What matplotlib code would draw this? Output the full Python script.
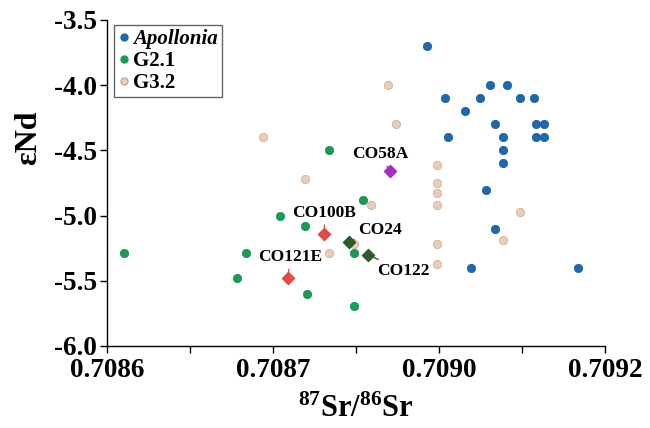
import matplotlib
matplotlib.use("Agg")
import matplotlib.pyplot as plt
from matplotlib.lines import Line2D

plt.rcParams['font.family'] = ['Liberation Serif', 'DejaVu Serif']
plt.rcParams['font.weight'] = 'bold'
plt.rcParams['mathtext.fontset'] = 'custom'
plt.rcParams['mathtext.rm'] = 'Liberation Serif:bold'
plt.rcParams['mathtext.bf'] = 'Liberation Serif:bold'
plt.rcParams['mathtext.it'] = 'Liberation Serif:bold:italic'

# ---- data ----
apollonia_sr = [0.708986, 0.709061, 0.709082, 0.709007, 0.709049, 0.709097, 0.709114,
                0.709031, 0.709067, 0.709117, 0.709127, 0.709011, 0.709077, 0.709117,
                0.709127, 0.709077, 0.709077, 0.709057, 0.709067, 0.709039, 0.709167]
apollonia_nd = [-3.70, -4.00, -4.00, -4.10, -4.10, -4.10, -4.10,
                -4.20, -4.30, -4.30, -4.30, -4.40, -4.40, -4.40,
                -4.40, -4.50, -4.60, -4.80, -5.10, -5.40, -5.40]

g21_sr = [0.708620, 0.708767, 0.708757, 0.708868, 0.708908, 0.708808, 0.708839,
          0.708898, 0.708841, 0.708898]
g21_nd = [-5.29, -5.29, -5.48, -4.50, -4.88, -5.00, -5.08, -5.29, -5.60, -5.69]

g32_sr = [0.708938, 0.708948, 0.708788, 0.708838, 0.708918, 0.708897, 0.708867,
          0.708997, 0.708997, 0.708997, 0.708997, 0.708997, 0.708997,
          0.709097, 0.709077]
g32_nd = [-4.00, -4.30, -4.40, -4.72, -4.92, -5.22, -5.29,
          -4.61, -4.75, -4.83, -4.92, -5.22, -5.37,
          -4.97, -5.19]

samples = ['CO58A', 'CO100B', 'CO121E', 'CO24', 'CO122']
sample_sr = [0.708941, 0.708862, 0.708818, 0.708892, 0.708914]
sample_nd = [-4.66, -5.14, -5.48, -5.20, -5.30]

x_ticks = [0.7086, 0.7088, 0.7090, 0.7092]
x_tick_labels = ['0.7086', '0.7087', '0.7090', '0.7092']
y_ticks = [-6.0, -5.5, -5.0, -4.5, -4.0, -3.5]

# ---- style ----
c_blue = '#1f68ad'
c_green = '#1b9b57'
c_beige = '#e9cdb8'
sample_colors = ['#a22fc2', '#e04a48', '#e04a48', '#2e5c2e', '#2e5c2e']
label_offsets = [(-10, 17), (0, 21), (2, 21), (31, 12), (36, -16)]

fig = plt.figure(figsize=(6.5, 4.28), dpi=100)
ax = fig.add_axes([0.1646, 0.1916, 0.9308 - 0.1646, 0.9533 - 0.1916])

ax.scatter(apollonia_sr, apollonia_nd, s=36, color=c_blue, edgecolor='#155a96', linewidth=0.5, zorder=3)
ax.scatter(g21_sr, g21_nd, s=36, color=c_green, edgecolor='#138a48', linewidth=0.5, zorder=3)
ax.scatter(g32_sr, g32_nd, s=36, color=c_beige, edgecolor='#c9a990', linewidth=0.5, zorder=3)

for name, sx, sy, col, off in zip(samples, sample_sr, sample_nd, sample_colors, label_offsets):
    ax.scatter([sx], [sy], marker='D', s=38, color=col, zorder=4)
    ax.annotate(name, xy=(sx, sy), xytext=off, textcoords='offset pixels',
                ha='center', va='center', fontsize=12.5, fontweight='bold',
                arrowprops=dict(arrowstyle='-', color=col, lw=1.0, shrinkA=1, shrinkB=3),
                zorder=5)

ax.set_xlim(0.7086, 0.7092)
ax.set_ylim(-6.0, -3.5)
ax.set_xticks(x_ticks)
ax.set_xticklabels(x_tick_labels)
ax.set_xticks([0.7087, 0.7089, 0.7091], minor=True)
ax.set_yticks(y_ticks)
ax.set_yticklabels([f'{v:.1f}' for v in y_ticks])
ax.tick_params(axis='both', which='both', direction='out', length=5, width=1, labelsize=19.5)
ax.tick_params(axis='y', pad=2)
ax.tick_params(axis='x', which='major', pad=4)
for lab in ax.get_xticklabels() + ax.get_yticklabels():
    lab.set_fontweight('bold')

ax.spines['top'].set_visible(False)
ax.spines['right'].set_visible(False)
ax.spines['left'].set_linewidth(1.0)
ax.spines['bottom'].set_linewidth(1.0)

ax.set_xlabel(r'$^{87}$Sr/$^{86}$Sr', fontsize=22, fontweight='bold', labelpad=8)
ax.set_ylabel('εNd', fontsize=23, fontweight='bold')
ax.yaxis.set_label_coords(-0.128, 0.64)

handles = [
    Line2D([], [], marker='o', linestyle='none', markersize=5, color=c_blue),
    Line2D([], [], marker='o', linestyle='none', markersize=5, color=c_green),
    Line2D([], [], marker='o', linestyle='none', markersize=5, color=c_beige, markeredgecolor='#c9a990'),
]
leg = ax.legend(handles, ['Apollonia', 'G2.1', 'G3.2'], loc='upper left',
                bbox_to_anchor=(0.015, 0.985), fancybox=False, framealpha=1,
                edgecolor='#666666', handlelength=0.5, handletextpad=0.2,
                borderpad=0.2, labelspacing=0.1, borderaxespad=0.0,
                prop={'size': 15, 'weight': 'bold'})
leg.get_frame().set_linewidth(1.0)
leg.get_texts()[0].set_fontstyle('italic')

fig.savefig('out.png', dpi=100)
